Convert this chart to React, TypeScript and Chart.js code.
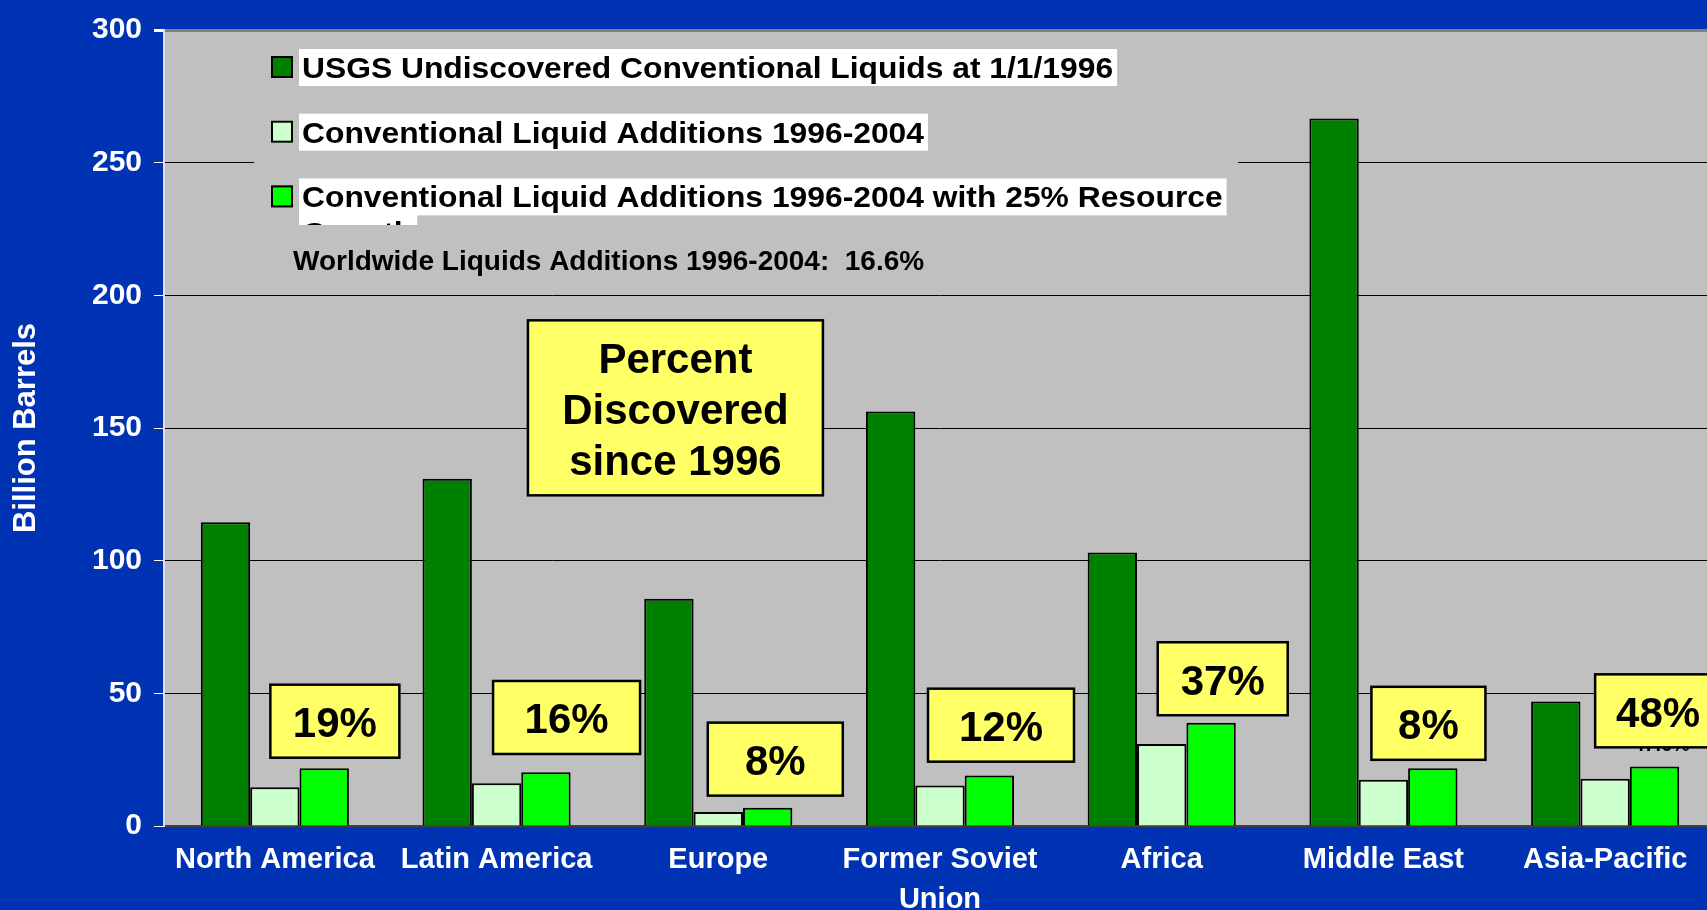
import React, { useEffect, useRef } from 'react';
import { Chart, registerables } from 'chart.js';

Chart.register(...registerables);

// ---------- data ----------
const categories: (string | string[])[] = [
  'North America',
  'Latin America',
  'Europe',
  ['Former Soviet', 'Union'],
  'Africa',
  'Middle East',
  'Asia-Pacific',
];
const undiscovered1996 = [114.5, 130.9, 85.6, 156.2, 103.1, 266.6, 46.9];
const additions19962004 = [14.6, 16.1, 5.3, 15.3, 30.9, 17.4, 17.8];
const additionsWithGrowth = [21.8, 20.3, 6.9, 19.0, 38.9, 21.8, 22.4];
const seriesLabels = [
  'USGS Undiscovered Conventional Liquids at 1/1/1996',
  'Conventional Liquid Additions 1996-2004',
  'Conventional Liquid Additions 1996-2004 with 25% Resource Growth',
];
const yTickValues = [0, 50, 100, 150, 200, 250, 300];
const percentDiscovered = ['19%', '16%', '8%', '12%', '37%', '8%', '48%'];
const percentBoxY = [39.5, 40.9, 25.2, 38.0, 55.5, 38.7, 43.4]; // box centres, in axis units
const calloutLines = ['Percent', 'Discovered', 'since 1996'];
const calloutY = 157.6;
const worldwideNote = 'Worldwide Liquids Additions 1996-2004:  16.6%';
const hiddenLabel = '47.6%';

// ---------- style ----------
const FONT = "'Liberation Sans', Arial, Helvetica, sans-serif";
const BLUE = '#0033B4';
const PLOT_BG = '#C0C0C0';
const COLORS = ['#008000', '#CCFFCC', '#00FF00'];
const YELLOW = '#FFFF66';
// pixel offsets of the percent boxes from their category centre, and box sizes
const boxDx = [60, 70, 57, 61, 61, 45, 53];
const boxW = [129, 147, 135, 146, 130, 114, 126];
const BOX_H = 73;

function wrapText(ctx: CanvasRenderingContext2D, text: string, maxW: number, sx: number) {
  const words = text.split(' ');
  const lines: string[] = [];
  let cur = '';
  for (const w of words) {
    const t = cur ? cur + ' ' + w : w;
    if (ctx.measureText(t).width * sx > maxW && cur) {
      lines.push(cur);
      cur = w;
    } else cur = t;
  }
  if (cur) lines.push(cur);
  return lines;
}

const plotBgPlugin = {
  id: 'plotBg',
  beforeDraw(chart: any) {
    const { ctx, chartArea } = chart;
    ctx.save();
    ctx.fillStyle = PLOT_BG;
    ctx.fillRect(chartArea.left, chartArea.top, chartArea.right - chartArea.left, chartArea.bottom - chartArea.top);
    ctx.restore();
  },
};

const overlayPlugin = {
  id: 'overlay',
  beforeDatasetsDraw(chart: any) {
    const { ctx, chartArea } = chart;
    const bx = chartArea.left + 90;
    const by = chartArea.top + 10;
    const bw = 984;
    const bh = 185;
    ctx.save();
    ctx.fillStyle = PLOT_BG;
    ctx.fillRect(bx, by, bw, bh);
    ctx.beginPath();
    ctx.rect(bx, by, bw, bh);
    ctx.clip();
    const sx = 1.06;
    ctx.font = `bold 30px ${FONT}`;
    ctx.textBaseline = 'alphabetic';
    ctx.textAlign = 'left';
    chart.data.datasets.forEach((ds: any, i: number) => {
      const base = by + 38 + i * 64.7;
      const mx = bx + 17;
      const my = base - 22;
      ctx.fillStyle = ds.backgroundColor;
      ctx.fillRect(mx, my, 22, 22);
      ctx.lineWidth = 2;
      ctx.strokeStyle = '#000';
      ctx.strokeRect(mx + 1, my + 1, 20, 20);
      const lines = wrapText(ctx, ds.label, 930, sx);
      lines.forEach((ln, j) => {
        const b = base + j * 36;
        const tx = bx + 45;
        const w = ctx.measureText(ln).width * sx;
        ctx.fillStyle = '#fff';
        ctx.fillRect(tx, b - 29, w + 7, 37);
        ctx.save();
        ctx.translate(tx + 3, b);
        ctx.scale(sx, 1);
        ctx.fillStyle = '#000';
        ctx.fillText(ln, 0, 0);
        ctx.restore();
      });
    });
    ctx.restore();

    ctx.save();
    ctx.font = `bold 28px ${FONT}`;
    ctx.fillStyle = '#000';
    ctx.textAlign = 'left';
    ctx.textBaseline = 'alphabetic';
    ctx.fillText(worldwideNote, chartArea.left + 129, chartArea.top + 240);
    ctx.restore();
  },
  afterDatasetsDraw(chart: any) {
    const { ctx } = chart;
    const xs = chart.scales.x;
    const ys = chart.scales.y;
    ctx.save();
    // partly hidden data label above the Asia-Pacific bar
    const apBar = chart.getDatasetMeta(2).data[6];
    ctx.font = `bold 20px ${FONT}`;
    ctx.fillStyle = '#000';
    ctx.textAlign = 'center';
    ctx.textBaseline = 'alphabetic';
    ctx.fillText(hiddenLabel, apBar.x + 7, apBar.y - 16);

    const drawBox = (cx: number, cy: number, w: number, h: number) => {
      ctx.fillStyle = YELLOW;
      ctx.fillRect(cx - w / 2, cy - h / 2, w, h);
      ctx.lineWidth = 2.5;
      ctx.strokeStyle = '#000';
      ctx.strokeRect(cx - w / 2, cy - h / 2, w, h);
    };

    ctx.font = `bold 42px ${FONT}`;
    ctx.textAlign = 'center';
    percentDiscovered.forEach((t, i) => {
      const cx = xs.getPixelForValue(i) + boxDx[i];
      const cy = ys.getPixelForValue(percentBoxY[i]);
      drawBox(cx, cy, boxW[i], BOX_H);
      ctx.fillStyle = '#000';
      ctx.fillText(t, cx, cy + 16);
    });

    const ccx = (xs.getPixelForValue(1) + xs.getPixelForValue(2)) / 2 + 68;
    const ccy = ys.getPixelForValue(calloutY);
    drawBox(ccx, ccy, 295, 175);
    ctx.fillStyle = '#000';
    calloutLines.forEach((ln, j) => {
      ctx.fillText(ln, ccx, ccy + 16 + (j - 1) * 51);
    });
    ctx.restore();
  },
};

export default function App() {
  const ref = useRef<HTMLCanvasElement>(null);
  useEffect(() => {
    document.body.style.margin = '0';
    document.body.style.overflow = 'hidden';
    const chart = new Chart(ref.current as HTMLCanvasElement, {
      type: 'bar',
      data: {
        labels: categories as any,
        datasets: [
          { label: seriesLabels[0], data: undiscovered1996, backgroundColor: COLORS[0] },
          { label: seriesLabels[1], data: additions19962004, backgroundColor: COLORS[1] },
          { label: seriesLabels[2], data: additionsWithGrowth, backgroundColor: COLORS[2] },
        ].map((d) => ({
          ...d,
          borderColor: '#000',
          borderWidth: 2,
          categoryPercentage: 0.668,
          barPercentage: 1.0,
        })),
      },
      options: {
        responsive: false,
        animation: false,
        events: [],
        layout: { padding: { top: 26, right: 6, left: 0, bottom: 0 } },
        plugins: { legend: { display: false }, tooltip: { enabled: false } },
        scales: {
          x: {
            grid: { display: false, drawTicks: false },
            border: { display: true, color: '#404040', width: 2 },
            ticks: {
              color: '#fff',
              font: { family: FONT, weight: 'bold', size: 29, lineHeight: 1.38 },
              padding: 14,
              maxRotation: 0,
              autoSkip: false,
            },
            afterFit: (s: any) => {
              s.height = 84;
            },
          },
          y: {
            min: 0,
            max: 300,
            afterBuildTicks: (s: any) => {
              s.ticks = yTickValues.map((v) => ({ value: v }));
            },
            ticks: {
              color: '#fff',
              font: { family: FONT, weight: 'bold', size: 30 },
              padding: 12,
            },
            grid: {
              color: (c: any) => (c.tick && c.tick.value === 300 ? '#808080' : c.tick && c.tick.value === 0 ? 'rgba(0,0,0,0)' : '#000'),
              lineWidth: (c: any) => (c.tick && c.tick.value === 300 ? 3 : 1),
              tickColor: '#fff',
              tickLength: 10,
              drawTicks: true,
            },
            border: { display: true, color: '#E0E0E0', width: 2 },
            title: {
              display: true,
              text: 'Billion Barrels',
              color: '#fff',
              font: { family: FONT, weight: 'bold', size: 31 },
              padding: { top: 8, bottom: 0 },
            },
            afterFit: (s: any) => {
              s.width = 164;
            },
          },
        },
      } as any,
      plugins: [plotBgPlugin, overlayPlugin],
    });
    return () => chart.destroy();
  }, []);
  return (
    <div
      style={{
        position: 'fixed',
        left: 0,
        top: 0,
        width: 1707,
        height: 910,
        overflow: 'hidden',
        background: BLUE,
      }}
    >
      <canvas ref={ref} width={1722} height={910} style={{ width: '1722px', height: '910px', display: 'block' }} />
    </div>
  );
}
